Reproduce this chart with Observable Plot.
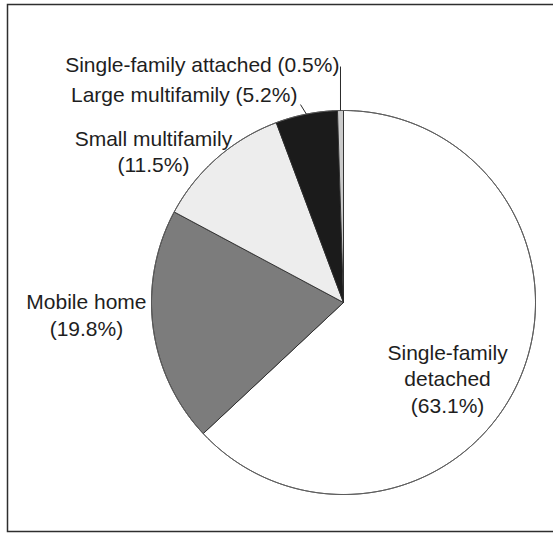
<!DOCTYPE html>
<html><head><meta charset="utf-8">
<script src="https://cdn.jsdelivr.net/npm/d3@7"></script>
<script src="https://cdn.jsdelivr.net/npm/@observablehq/plot@0.6"></script>
<style>body{margin:0;background:#fff;}</style>
</head><body><div id="chart"></div>
<script>
const categories = ["Single-family detached", "Mobile home", "Small multifamily", "Large multifamily", "Single-family attached"];
const shares = [63.1, 19.8, 11.5, 5.2, 0.5];
const labels = ["Single-family\ndetached\n(63.1%)", "Mobile home\n(19.8%)", "Small multifamily\n(11.5%)", "Large multifamily (5.2%)", "Single-family attached (0.5%)"];
const fills = ["#ffffff", "#7c7c7c", "#ededed", "#1b1b1b", "#cbcbcb"];
// label layout, in units of the pie radius (centre = 0,0, y up)
const labelX = [0.542, -1.339, -0.990, -0.240, -0.021];
const labelY = [-0.573, -0.172, 0.682, 1.042, 1.203];
const labelAnchor = ["middle", "middle", "middle", "end", "end"];
const leaderTop = [null, null, null, [-0.224, 1.031], [null, 1.229]];

const arcs = d3.pie().sort(null).value(d => d)(shares);
function arcPoints(a0, a1, withCentre) {
  const n = Math.max(2, Math.ceil((a1 - a0) / 0.004));
  const pts = withCentre ? [{x: 0, y: 0}] : [];
  for (let i = 0; i <= n; i++) {
    const a = a0 + (a1 - a0) * i / n;
    pts.push({x: Math.sin(a), y: Math.cos(a)});
  }
  if (withCentre) pts.push({x: 0, y: 0});
  return pts;
}
const sliceMarks = arcs.map((a, i) =>
  Plot.line(arcPoints(a.startAngle, a.endAngle, true), {
    x: "x", y: "y", fill: fills[i], stroke: "#2a2a2a", strokeWidth: 0.9, strokeLinejoin: "round"
  })
);
const outline = Plot.line(arcPoints(0, 2 * Math.PI, false), {x: "x", y: "y", stroke: "#5a5a5a", strokeWidth: 1});

const leaders = [];
arcs.forEach((a, i) => {
  if (!leaderTop[i]) return;
  const mid = (a.startAngle + a.endAngle) / 2;
  const x1 = Math.sin(mid), y1 = Math.cos(mid);
  const x2 = leaderTop[i][0] == null ? x1 : leaderTop[i][0];
  leaders.push({x1, y1, x2, y2: leaderTop[i][1]});
});

const labelData = labels.map((t, i) => ({t, x: labelX[i], y: labelY[i], anchor: labelAnchor[i]}));

const chart = Plot.plot({
  width: 553, height: 533, margin: 0,
  x: {domain: [-343 / 192, 210 / 192], axis: null},
  y: {domain: [-231 / 192, 302 / 192], axis: null},
  style: {fontFamily: "'Liberation Sans', Arial, Helvetica, sans-serif", background: "#fff"},
  marks: [
    Plot.frame({stroke: "#2e2e2e", strokeWidth: 1.5, insetTop: 4, insetLeft: 7, insetBottom: 2, insetRight: -6}),
    ...sliceMarks,
    outline,
    Plot.link(leaders, {x1: "x1", y1: "y1", x2: "x2", y2: "y2", stroke: "#2a2a2a", strokeWidth: 1}),
    Plot.text(labelData.filter(d => d.anchor === "middle"), {x: "x", y: "y", text: "t", textAnchor: "middle", lineAnchor: "bottom", lineHeight: 1.24, fontSize: 21, fill: "#1e1e1e"}),
    Plot.text(labelData.filter(d => d.anchor === "end"), {x: "x", y: "y", text: "t", textAnchor: "end", lineAnchor: "bottom", fontSize: 21, fill: "#1e1e1e"})
  ]
});
document.getElementById("chart").appendChild(chart);
</script>
</body></html>
